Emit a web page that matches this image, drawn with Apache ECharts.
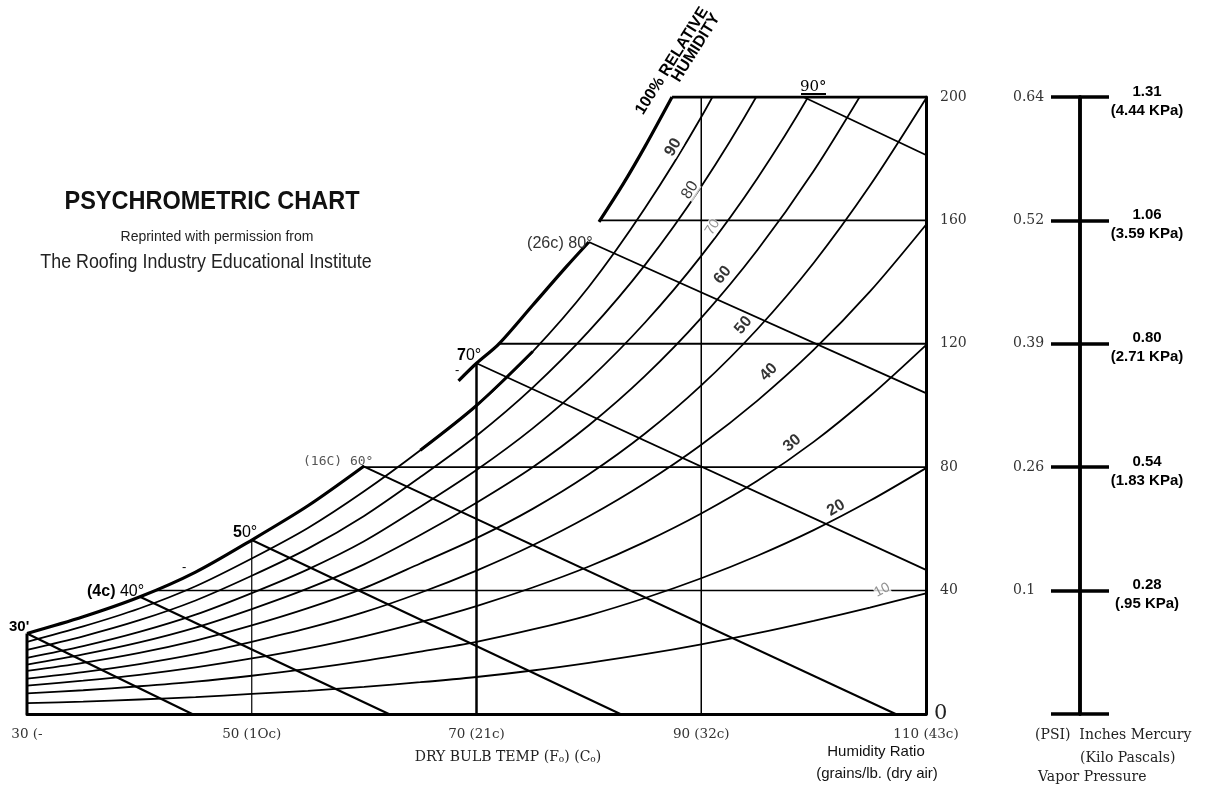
<!DOCTYPE html>
<html>
<head>
<meta charset="utf-8">
<title>Psychrometric Chart</title>
<script src="https://cdn.jsdelivr.net/npm/echarts@6/dist/echarts.min.js"></script>
<style>
* { margin: 0; padding: 0; }
html, body { background: #fff; }
#main { width: 1209px; height: 788px; }
</style>
</head>
<body>
<div id="main"></div>
<script>
var dryBulb = [30, 35, 40, 45, 50, 55, 60, 65, 70, 75, 80, 85, 90, 95, 100, 105, 110];

// humidity ratio (grains/lb dry air) along each relative humidity curve
var rh90 = [23.4, 28.4, 34.2, 41.4, 50.4, 60.3, 72.2, 85.5, 100, 117.5, 138.5, 164, 193.5, 227.5];
var rh80 = [20.8, 25.2, 30.4, 36.8, 44.8, 53.6, 64.2, 76.8, 90.2, 105.8, 124.1, 145.6, 171, 200.7, 235];
var rh70 = [18.2, 22.0, 26.6, 32.2, 39.2, 46.9, 56.0, 67.2, 79.1, 92.6, 108.4, 126.9, 148.5, 173.7, 203.1, 238];
var rh60 = [16, 19.3, 23.2, 28, 34, 40.7, 48.5, 58, 68.5, 80, 93.6, 109.6, 128.4, 150.4, 176, 205.5];
var rh50 = [14, 16.6, 19.8, 23.8, 28.7, 34.3, 40.8, 48.8, 57, 66.5, 77.7, 90.9, 106.5, 124.8, 146.2, 171.2, 199.5];
var rh40 = [11.5, 13.6, 16.2, 19.4, 23.4, 27.8, 33, 39.3, 46.5, 54.7, 64.1, 74.9, 87.3, 101.6, 118, 136.9, 158.6];
var rh30 = [9.2, 10.8, 12.7, 15.1, 18, 21.3, 25.2, 29.8, 35, 41, 47.8, 55.8, 65, 75.6, 88.2, 103, 119.6];
var rh20 = [6.7, 7.7, 9, 10.5, 12.4, 14.6, 17.2, 20.2, 23.4, 27.4, 32, 37.6, 44, 51.3, 59.6, 69.1, 79.7];
var rh10 = [3.5, 4, 4.7, 5.5, 6.5, 7.5, 8.8, 10.3, 12, 14.1, 16.6, 19.4, 22.6, 26.2, 30.2, 34.5, 39.1];

// saturation (100%) curve, in the same broken pieces as the original
var satTempA = [30, 35, 40, 45, 50, 55, 60];
var satGrainA = [26.1, 31.5, 37.9, 46, 56.4, 67.5, 80.4];
var satTempB = [68.4, 70, 72, 75, 78, 80];
var satGrainB = [108, 113.7, 120, 132.5, 145, 153];
var satTempC = [80.9, 83, 85, 87.4];
var satGrainC = [159.5, 171.5, 184, 200];

// wet bulb lines (start on saturation, end on bottom or right edge)
var wbStart = [[30, 26.1], [40.1, 37.9], [50, 56.4], [59.85, 80.4], [70, 113.7], [80, 153], [99.1, 200]];
var wbEnd = [[44.7, 0], [62.2, 0], [82.8, 0], [107.3, 0], [110, 46.7], [110, 104], [110, 181.2]];
var wbWidth = [2.2, 2.2, 2, 2, 1.8, 1.8, 1.8];

// constant humidity ratio lines, start temp on the saturation curve
var hrGrains = [40, 80, 120, 160, 200];
var hrFrom = [41.5, 59.85, 71.9, 80.9, 87.4];
var hrWidth = [1.5, 1.8, 2, 1.6, 3];

// constant dry bulb lines, top on the saturation curve
var dbTemps = [30, 50, 70, 90];
var dbTop = [26.1, 56.4, 113.7, 200];
var dbWidth = [3, 1.2, 2.5, 1.5];

// RH curve labels
var rhLabelText = ['90', '80', '70', '60', '50', '40', '30', '20', '10'];
var rhLabelAt = [[87.5, 183.7], [89, 169.8], [91, 157.8], [91.9, 142.3], [93.75, 126], [96, 110.8], [98.1, 87.8], [102, 66.8], [106.1, 40.2]];
var rhLabelRot = [60, 58, 58, 50, 50, 45, 40, 30, 28];

// tick labels
var xTickLabels = ['30 (-', '50 (1Oc)', '70 (21c)', '90 (32c)', '110 (43c)'];
var psiLabels = ['', '0.1', '0.26', '0.39', '0.52', '0.64'];
var inHgLabels = ['', '0.28', '0.54', '0.80', '1.06', '1.31'];
var kpaLabels = ['', '(.95 KPa)', '(1.83 KPa)', '(2.71 KPa)', '(3.59 KPa)', '(4.44 KPa)'];

var SANS = '"Liberation Sans", Arial, sans-serif';
var SERIF = '"DejaVu Serif", serif';

function zip(temps, grains) {
  return grains.map(function (g, i) { return [temps[i], g]; });
}

function lineSeries(data, width, smooth) {
  return {
    type: 'line',
    data: data,
    smooth: smooth ? 0.3 : false,
    symbol: 'none',
    silent: true,
    lineStyle: { color: '#000', width: width },
    z: 3
  };
}

var series = [];

// RH curves
[rh90, rh80, rh70, rh60, rh50, rh40, rh30, rh20, rh10].forEach(function (arr) {
  series.push(lineSeries(zip(dryBulb, arr), 1.8, true));
});
// thick bit on the 90% curve between 65F and 75F (as in the original)
series.push(lineSeries(zip(dryBulb.slice(7, 10), rh90.slice(7, 10)), 3, true));

// saturation
series.push(lineSeries(zip(satTempA, satGrainA), 3.2, true));
series.push(lineSeries(zip(satTempB, satGrainB), 3.2, true));
series.push(lineSeries(zip(satTempC, satGrainC), 3.2, true));

// wet bulb
wbStart.forEach(function (p, i) {
  series.push(lineSeries([p, wbEnd[i]], wbWidth[i], false));
});

// humidity ratio lines
hrGrains.forEach(function (g, i) {
  series.push(lineSeries([[hrFrom[i], g], [110, g]], hrWidth[i], false));
});

// dry bulb lines
dbTemps.forEach(function (t, i) {
  series.push(lineSeries([[t, 0], [t, dbTop[i]]], dbWidth[i], false));
});

// RH labels
series.push({
  type: 'scatter',
  silent: true,
  symbolSize: 1,
  itemStyle: { color: 'rgba(0,0,0,0)' },
  z: 5,
  label: {
    show: true,
    position: 'inside',
    formatter: '{b}',
    fontFamily: SANS,
    fontSize: 15,
    color: '#000',
    backgroundColor: '#fff'
  },
  data: rhLabelAt.map(function (p, i) {
    var thin = rhLabelText[i] === '70' || rhLabelText[i] === '10';
    return {
      name: rhLabelText[i],
      value: p,
      label: {
        rotate: rhLabelRot[i],
        color: thin ? '#777' : '#000',
        fontWeight: thin || rhLabelText[i] === '80' ? 'normal' : 'bold',
        fontSize: thin ? 14 : 16
      }
    };
  })
});

function txt(x, y, text, font, fill, align, rot, rich, sx) {
  var el = {
    type: 'text', x: x, y: y, silent: true, z: 10,
    style: {
      text: text, font: font, fill: fill || '#000',
      align: align || 'left', verticalAlign: 'middle'
    }
  };
  if (rot) el.rotation = rot * Math.PI / 180;
  if (rich) el.style.rich = rich;
  if (sx) el.scaleX = sx;
  return el;
}

var boldRich = { b: { fontWeight: 'bold', fontSize: 16, fontFamily: SANS } };

var graphics = [
  txt(212, 202, 'PSYCHROMETRIC CHART', 'bold 25px ' + SANS, '#111', 'center', 0, null, 0.94),
  txt(217, 237, 'Reprinted with permission from', '14px ' + SANS, '#222', 'center'),
  txt(206, 262, 'The Roofing Industry Educational Institute', '21px ' + SANS, '#222', 'center', 0, null, 0.85),

  txt(672, 61, '100% RELATIVE', 'bold 16px ' + SANS, '#000', 'center', 58),
  txt(696, 48, 'HUMIDITY', 'bold 16px ' + SANS, '#000', 'center', 58),

  txt(9, 627, "30'", 'bold 15px ' + SANS),
  txt(87, 592, '{b|(4c)} 40°', '16px ' + SANS, '#000', 'left', 0, boldRich),
  txt(182, 567, '-', '13px ' + SANS),
  txt(233, 533, '{b|5}0°', '16px ' + SANS, '#000', 'left', 0, boldRich),
  txt(303, 462, '(16C) 60°', '13px "DejaVu Sans Mono", monospace', '#555'),
  txt(457, 356, '{b|7}0°', '16px ' + SANS, '#000', 'left', 0, boldRich),
  txt(455, 370, '-', '13px ' + SANS),
  txt(527, 243, '(26c) 80°', '17px ' + SANS, '#333', 'left', 0, null, 0.95),
  txt(800, 87, '90°', '15px ' + SERIF, '#000'),
  { type: 'line', silent: true, shape: { x1: 801, y1: 94, x2: 826, y2: 94 }, style: { stroke: '#000', lineWidth: 2 } },

  txt(508, 757, '{m|DRY BULB TEMP (F}{s|o}{m|) (C}{s|o}{m|)}', '14px ' + SERIF, '#222', 'center', 0, {
    m: { fontFamily: 'DejaVu Serif', fontSize: 14, color: '#222' },
    s: { fontFamily: 'DejaVu Serif', fontSize: 9, color: '#222', padding: [6, 0, 0, 0] }
  }),
  txt(876, 752, 'Humidity Ratio', '15px ' + SANS, '#111', 'center'),
  txt(877, 774, '(grains/lb. (dry air)', '15px ' + SANS, '#111', 'center'),

  txt(1035, 735, '(PSI)  Inches Mercury', '14px ' + SERIF, '#222'),
  txt(1080, 758, '(Kilo Pascals)', '14px ' + SERIF, '#222'),
  txt(1038, 777, 'Vapor Pressure', '14px ' + SERIF, '#222')
];

var chart = echarts.init(document.getElementById('main'));
chart.setOption({
  animation: false,
  backgroundColor: '#fff',
  grid: { left: 27, top: 97, width: 899, height: 617 },
  xAxis: {
    type: 'value',
    min: 30, max: 110, interval: 20,
    splitLine: { show: false },
    axisTick: { show: false },
    axisLine: { show: true, lineStyle: { color: '#000', width: 3 } },
    axisLabel: {
      margin: 13,
      showMinLabel: true, showMaxLabel: true,
      fontFamily: 'DejaVu Serif', fontSize: 13.5, color: '#333',
      formatter: function (v) { return xTickLabels[Math.round((v - 30) / 20)]; }
    }
  },
  yAxis: [
    {
      type: 'value', position: 'right',
      min: 0, max: 200, interval: 40,
      splitLine: { show: false },
      axisTick: { show: false },
      axisLine: { show: true, lineStyle: { color: '#000', width: 3 } },
      axisLabel: {
        margin: 8,
        formatter: function (v) { return v === 0 ? '{z|0}' : '{n|' + v + '}'; },
        rich: {
          n: { fontFamily: 'DejaVu Serif', fontSize: 14, color: '#333', padding: [0, 0, 0, 6] },
          z: { fontFamily: 'DejaVu Serif', fontSize: 21, color: '#222' }
        }
      }
    },
    {
      // vapor pressure scale, right-hand labels
      type: 'value', position: 'right', offset: 154,
      min: 0, max: 200, interval: 40,
      splitLine: { show: false },
      axisLine: { show: true, lineStyle: { color: '#000', width: 3.5 } },
      axisTick: { show: true, length: 29, lineStyle: { color: '#000', width: 3.5 } },
      axisLabel: {
        margin: 67, align: 'center', padding: [8, 0, 0, 0],
        formatter: function (v) {
          var i = Math.round(v / 40);
          if (!i) return '';
          return '{a|' + inHgLabels[i] + '}\n{a|' + kpaLabels[i] + '}';
        },
        rich: { a: { fontFamily: 'Liberation Sans', fontWeight: 'bold', fontSize: 15, lineHeight: 19, color: '#000' } }
      }
    },
    {
      // vapor pressure scale, PSI labels on the left
      type: 'value', position: 'right', offset: 154,
      min: 0, max: 200, interval: 40,
      splitLine: { show: false },
      axisLine: { show: true, lineStyle: { color: '#000', width: 3.5 } },
      axisTick: { show: true, inside: true, length: 29, lineStyle: { color: '#000', width: 3.5 } },
      axisLabel: {
        inside: true, margin: 67, align: 'left', padding: [0, 0, 8, 0],
        fontFamily: 'DejaVu Serif', fontSize: 14, color: '#333',
        formatter: function (v) { return psiLabels[Math.round(v / 40)]; }
      }
    }
  ],
  series: series,
  graphic: graphics
});
</script>
</body>
</html>
